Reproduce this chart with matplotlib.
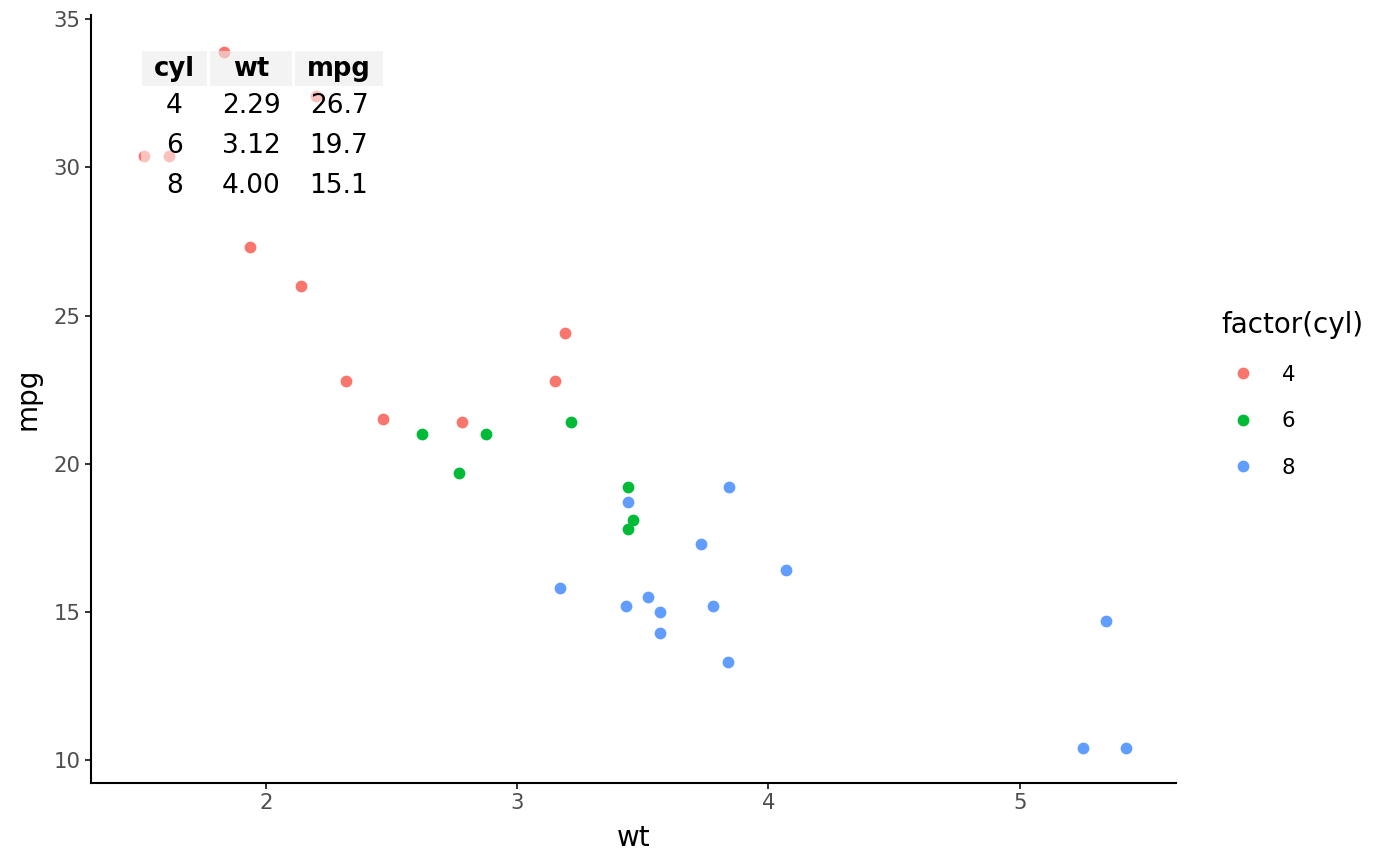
import numpy as np
import pandas as pd
import matplotlib
matplotlib.use('Agg')
import matplotlib.pyplot as plt
from matplotlib.patches import Rectangle
from matplotlib.lines import Line2D

plt.rcParams['font.family'] = 'DejaVu Sans'

# mtcars: weight, mpg, cylinders
wt = [2.620, 2.875, 2.320, 3.215, 3.440, 3.460, 3.570, 3.190, 3.150, 3.440,
      3.440, 4.070, 3.730, 3.780, 5.250, 5.424, 5.345, 2.200, 1.615, 1.835,
      2.465, 3.520, 3.435, 3.840, 3.845, 1.935, 2.140, 1.513, 3.170, 2.770,
      3.570, 2.780]
mpg = [21.0, 21.0, 22.8, 21.4, 18.7, 18.1, 14.3, 24.4, 22.8, 19.2,
       17.8, 16.4, 17.3, 15.2, 10.4, 10.4, 14.7, 32.4, 30.4, 33.9,
       21.5, 15.5, 15.2, 13.3, 19.2, 27.3, 26.0, 30.4, 15.8, 19.7,
       15.0, 21.4]
cyl = [6, 6, 4, 6, 8, 6, 8, 4, 4, 6,
       6, 8, 8, 8, 8, 8, 8, 4, 4, 4,
       4, 8, 8, 8, 8, 4, 4, 4, 8, 6,
       8, 4]
levels = [4, 6, 8]
colours = {4: '#F8766D', 6: '#00BA38', 8: '#619CFF'}

df = pd.DataFrame({'wt': wt, 'mpg': mpg, 'cyl': cyl})
means = df.groupby('cyl')[['wt', 'mpg']].mean().reset_index()

W, H = 1400, 866
fig = plt.figure(figsize=(W / 100, H / 100), dpi=100)
ax = fig.add_axes([91 / W, 1 - 782.7 / H, (1176 - 91) / W, (782.7 - 15) / H])

for c in levels:
    d = df[df.cyl == c]
    ax.scatter(d.wt, d.mpg, s=72, color=colours[c], linewidths=0, zorder=2)

ax.set_xlim(1.304, 5.622)
ax.set_ylim(9.234, 35.145)
ax.set_xticks([2, 3, 4, 5])
ax.set_yticks([10, 15, 20, 25, 30, 35])

for s in ['top', 'right']:
    ax.spines[s].set_visible(False)
for s in ['left', 'bottom']:
    ax.spines[s].set_linewidth(1.5)
    ax.spines[s].set_color('black')
    ax.spines[s].set_capstyle('projecting')
ax.tick_params(length=4.5, width=1.4, color='#333333', labelsize=15.3,
               labelcolor='#4D4D4D', pad=3)
ax.set_xlabel('wt', fontsize=20, labelpad=8)
ax.set_ylabel('mpg', fontsize=20, labelpad=8.5)

# table of group means, drawn in figure pixel positions
def fx(px):
    return px / W

def fy(py):
    return 1 - py / H

cols = [(142, 207), (210, 292), (295, 383)]
headers = ['cyl', 'wt', 'mpg']
fig.patches.append(Rectangle((fx(141), fy(206)), fx(384) - fx(141), fy(86) - fy(206),
                             transform=fig.transFigure, facecolor='white',
                             alpha=0.55, edgecolor='none', zorder=3))
for (x0, x1), h in zip(cols, headers):
    fig.patches.append(Rectangle((fx(x0), fy(86)), fx(x1) - fx(x0), fy(51) - fy(86),
                                 transform=fig.transFigure, facecolor='#EBEBEB',
                                 alpha=0.6, edgecolor='none', zorder=3))
    fig.text(fx((x0 + x1) / 2), fy(69), h, ha='center', va='center',
             fontsize=18.6, fontweight='bold', zorder=4)

row_y = [106, 146, 186]
for i, r in means.iterrows():
    vals = ['%d' % r.cyl, '%.2f' % r.wt, '%.1f' % r.mpg]
    for (x0, x1), v in zip(cols, vals):
        fig.text(fx((x0 + x1) / 2), fy(row_y[i]), v, ha='center', va='center',
                 fontsize=19, zorder=4)

# legend
handles = [Line2D([], [], marker='o', linestyle='none', markersize=8.5,
                  markerfacecolor=colours[c], markeredgewidth=0) for c in levels]
leg = fig.legend(handles, [str(c) for c in levels], title='factor(cyl)',
                 loc='upper left', bbox_to_anchor=(fx(1213), fy(302)),
                 frameon=False, fontsize=15.3, title_fontsize=20,
                 labelspacing=1.24, handlelength=2.0, handletextpad=0.84,
                 borderaxespad=0)
leg._legend_box.align = 'left'

fig.savefig('out.png', dpi=100)
